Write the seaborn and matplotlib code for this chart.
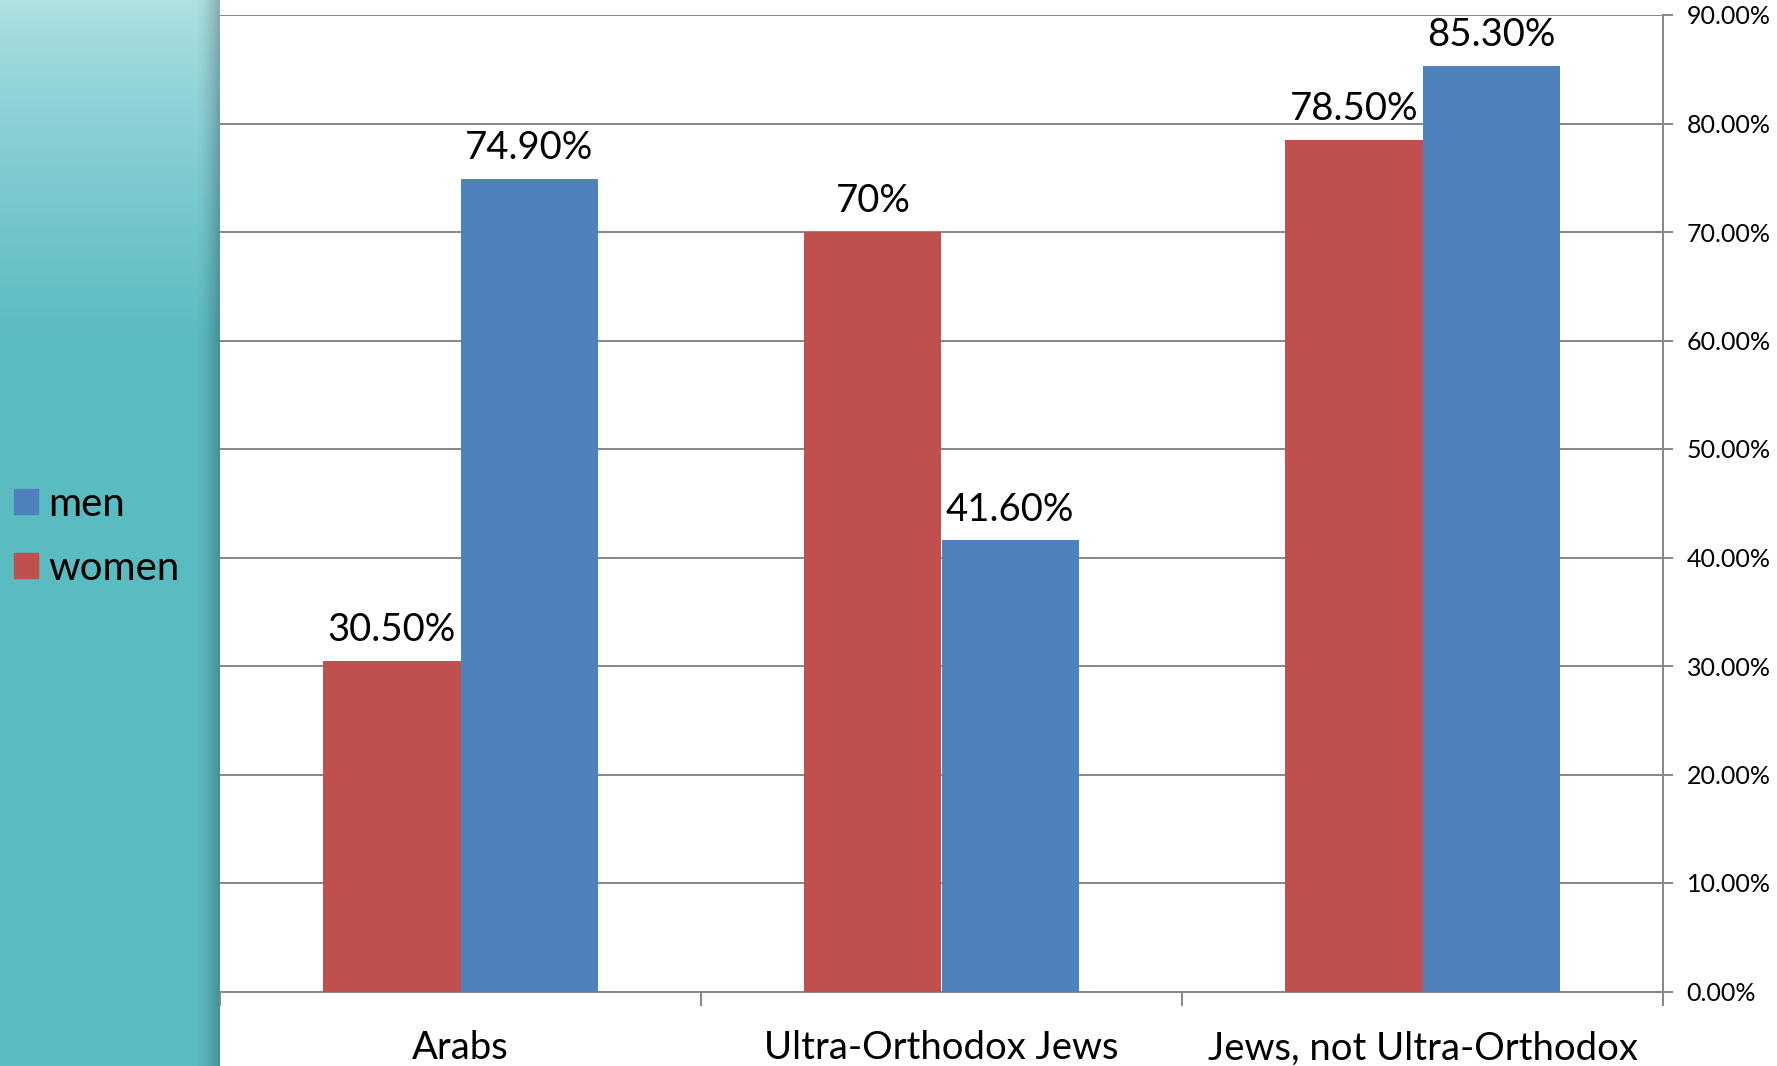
import numpy as np
import pandas as pd
import matplotlib
matplotlib.use("Agg")
import matplotlib.pyplot as plt
import seaborn as sns
from matplotlib.patches import Patch

groups = ["Arabs", "Ultra-Orthodox Jews", "Jews, not Ultra-Orthodox"]
women = [30.5, 70.0, 78.5]
men = [74.9, 41.6, 85.3]
women_labels = ["30.50%", "70%", "78.50%"]
men_labels = ["74.90%", "41.60%", "85.30%"]
y_ticks = [0, 10, 20, 30, 40, 50, 60, 70, 80, 90]

red = "#C0504D"
blue = "#4F81BD"
grid_gray = "#868686"

df = pd.DataFrame({
    "group": groups * 2,
    "sex": ["women"] * 3 + ["men"] * 3,
    "value": women + men,
})

sns.set_style("white")
plt.rcParams["font.family"] = ["Lato", "DejaVu Sans"]

W, H = 1777, 1066
fig = plt.figure(figsize=(W / 100, H / 100), dpi=100)
fig.patch.set_facecolor("white")

# teal side panel with a vertical gradient and a shadow at its right edge
panel_w = 220
bg = fig.add_axes([0, 0, panel_w / W, 1])
yy = np.linspace(0, 1, H)[:, None]
top = np.array([176, 225, 227]) / 255
bot = np.array([90, 187, 193]) / 255
t = np.clip(yy / 0.32, 0, 1) ** 0.8
col = top * (1 - t[..., None]) + bot * t[..., None]
img = np.repeat(col, panel_w, axis=1)
xx = np.arange(panel_w)
shade = np.clip((xx - 196) / 22, 0, 1) ** 1.5
img = img * (1 - 0.22 * shade[None, :, None])
bg.imshow(img, aspect="auto", extent=[0, 1, 0, 1])
bg.set_axis_off()

ax = fig.add_axes([panel_w / W, 1 - 991.5 / H, (1663 - panel_w) / W, (991.5 - 15) / H])
sns.barplot(data=df, x="group", y="value", hue="sex", hue_order=["women", "men"],
            palette=[red, blue], saturation=1, width=0.57, gap=0, linewidth=0,
            legend=False, ax=ax, zorder=3)

for cont, labs in zip(ax.containers, [women_labels, men_labels]):
    ax.bar_label(cont, labels=labs, padding=9, fontsize=27.5, color="black")

ax.set_xlim(-0.5, 2.5)
ax.set_ylim(0, 90)
ax.set_xlabel("")
ax.set_ylabel("")
ax.set_yticks(y_ticks)
ax.set_yticklabels(["%.2f%%" % v for v in y_ticks], fontsize=18, color="black")
ax.yaxis.tick_right()
ax.yaxis.grid(True, color=grid_gray, linewidth=1.4, zorder=0)
ax.set_axisbelow(True)
ax.tick_params(axis="y", which="major", length=7, width=1.4, color=grid_gray, pad=10, right=True, left=False)

ax.set_xticks(range(len(groups)))
ax.set_xticklabels(groups, fontsize=27.5, color="black")
ax.set_xticks([-0.5, 0.5, 1.5, 2.5], minor=True)
ax.tick_params(axis="x", which="major", length=0, pad=28)
ax.tick_params(axis="x", which="minor", length=10, width=1.4, color=grid_gray, bottom=True)

for s in ["top", "left"]:
    ax.spines[s].set_visible(False)
for s in ["bottom", "right"]:
    ax.spines[s].set_color(grid_gray)
    ax.spines[s].set_linewidth(1.4)

handles = [Patch(color=blue, label="men"), Patch(color=red, label="women")]
fig.legend(handles=handles, loc="center left", bbox_to_anchor=(0.0, 0.497),
           frameon=False, fontsize=29, handlelength=0.6, handleheight=0.6,
           handletextpad=0.25, labelspacing=0.68, borderaxespad=0.2,
           borderpad=0.15, labelcolor="black")

fig.savefig("out.png", dpi=100)
